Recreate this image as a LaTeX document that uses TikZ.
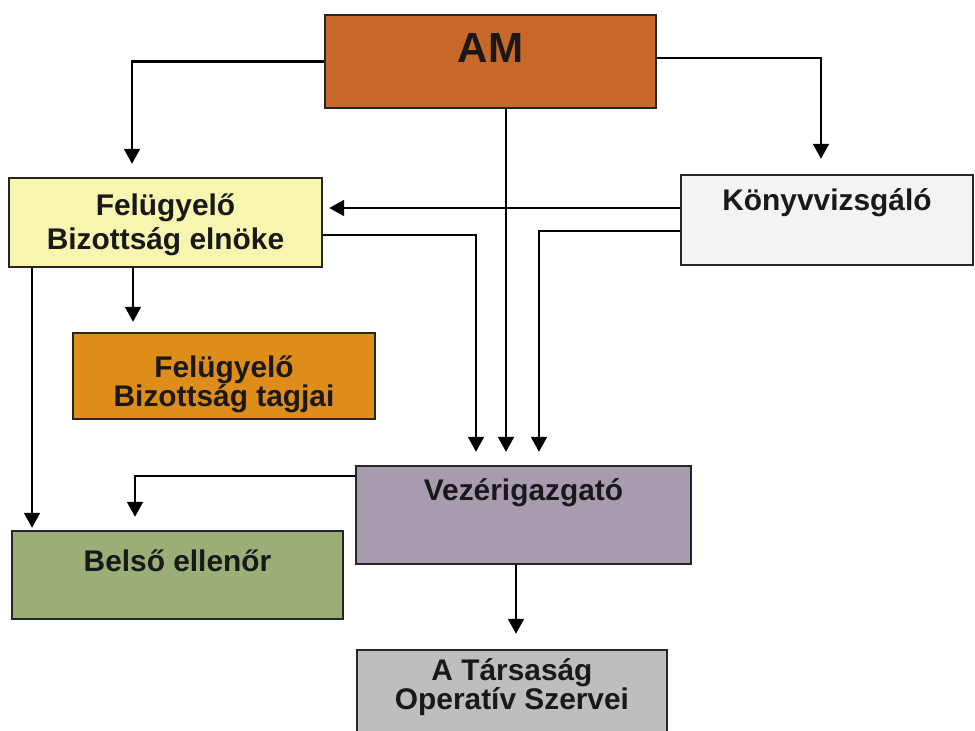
\documentclass[tikz,border=0pt]{standalone}
\usepackage{fontspec}
\setmainfont{Liberation Sans}
\usepackage{xcolor}
\definecolor{OrgBrown}{HTML}{C8682A}
\definecolor{OrgYellow}{HTML}{F8F5B0}
\definecolor{OrgWhite}{HTML}{F3F3F1}
\definecolor{OrgOrange}{HTML}{DE8C1A}
\definecolor{OrgLilac}{HTML}{A99BAF}
\definecolor{OrgGreen}{HTML}{9CAE78}
\definecolor{OrgGrey}{HTML}{BEBEBE}
\usetikzlibrary{arrows.meta,positioning}

\tikzset{
	orgbox/.style={draw=black!85, line width=1.4pt, inner sep=0pt},
	orgtxt/.style={font=\bfseries\fontsize{17}{19.5}\selectfont, align=center, text=black!90},
	orgarr/.style={line width=1.3pt, -{Triangle[width=9pt,length=8.5pt]}, shorten >=0.26cm}
}

\begin{document}
\begin{tikzpicture}[x=0.02cm, y=-0.02cm]
		\useasboundingbox (0,0) rectangle (975,731);
		
		% boxes
		\node[orgbox, fill=OrgBrown, minimum width=6.62cm, minimum height=1.86cm,
			label={[orgtxt, name=amtxt, font=\bfseries\fontsize{24}{28}\selectfont, yshift=7.7pt]center:AM}] (am) at (490.5,61.5) {};
		\node[orgbox, fill=OrgYellow, minimum width=6.26cm, minimum height=1.78cm,
			label={[orgtxt, name=elnoktxt, yshift=-1.4pt]center:Felügyelő\\Bizottság elnöke}] (elnok) at (165.5,222.5) {};
		\node[orgbox, fill=OrgWhite, minimum width=5.84cm, minimum height=1.80cm,
			label={[orgtxt, name=konyvtxt, yshift=9.6pt]center:Könyvvizsgáló}] (konyv) at (827,220) {};
		\node[orgbox, fill=OrgOrange, minimum width=6.04cm, minimum height=1.72cm,
			label={[orgtxt, name=tagjaitxt, font=\bfseries\fontsize{17}{16.5}\selectfont, yshift=-4.5pt]center:Felügyelő\\Bizottság tagjai}] (tagjai) at (224,376) {};
		\node[orgbox, fill=OrgLilac, minimum width=6.70cm, minimum height=1.96cm,
			label={[orgtxt, name=vezertxt, yshift=12.5pt]center:Vezérigazgató}] (vezer) at (523.5,515) {};
		\node[orgbox, fill=OrgGreen, minimum width=6.62cm, minimum height=1.76cm,
			label={[orgtxt, name=belsotxt, yshift=8pt]center:Belső ellenőr}] (belso) at (177.5,575) {};
		\node[orgbox, fill=OrgGrey, minimum width=6.20cm, minimum height=2.20cm,
			label={[orgtxt, name=tarstxt, font=\bfseries\fontsize{17}{16.5}\selectfont, yshift=10pt]center:A Társaság\\Operatív Szervei}] (tars) at (512,705) {};
		
		% connectors from AM
		\draw[orgarr] (am.west) -| ([xshift=-0.67cm]elnok.north);
		\draw[orgarr, shorten >=0.3cm] ([yshift=0.07cm]am.east) -| ([xshift=-0.12cm]konyv.north);
		\draw[orgarr] ([xshift=0.31cm]am.south) -- ([xshift=0.31cm]am.south |- vezer.north);
		
		% Konyvvizsgalo
		\draw[orgarr, shorten >=0.12cm] ([yshift=0.24cm]konyv.west) -- ([yshift=0.24cm]konyv.west -| elnok.east);
		\draw[orgarr] ([yshift=-0.22cm]konyv.west) -| ([xshift=0.31cm]vezer.north);
		
		% FB elnoke
		\draw[orgarr] ([yshift=-0.25cm]elnok.east) -| ([xshift=-0.95cm]vezer.north);
		\draw[orgarr, shorten >=0.04cm] ([xshift=-2.67cm]elnok.south) -- ([xshift=-2.67cm]elnok.south |- belso.north);
		\draw[orgarr, shorten >=0.2cm] ([xshift=-0.65cm]elnok.south) -- ([xshift=-0.65cm]elnok.south |- tagjai.north);
		
		% Vezerigazgato
		\draw[orgarr] ([yshift=0.78cm]vezer.west) -| ([xshift=-0.85cm]belso.north);
		\draw[orgarr, shorten >=0.3cm] ([xshift=-0.15cm]vezer.south) -- ([xshift=-0.15cm]vezer.south |- tars.north);
		
	\end{tikzpicture}
\end{document}
